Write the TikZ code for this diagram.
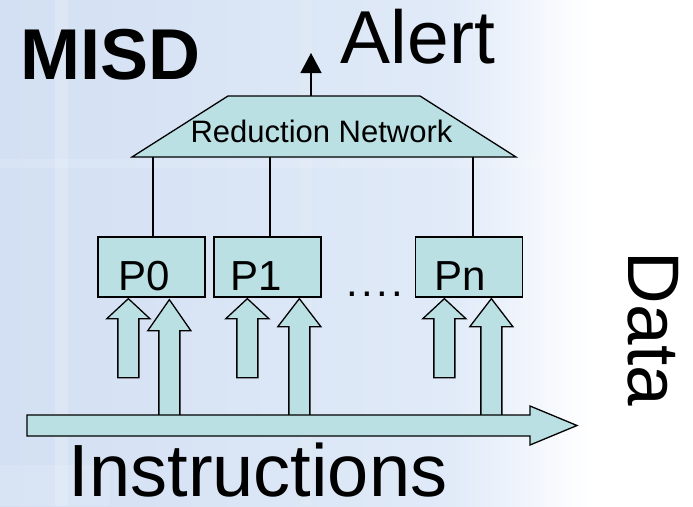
\documentclass[tikz,border=0pt]{standalone}
\usepackage{fontspec}
\setmainfont{Liberation Sans}
\usetikzlibrary{arrows.meta,calc}
\definecolor{bgblue}{RGB}{211,224,243}
\definecolor{bgmid}{RGB}{224,234,248}
\definecolor{boxfill}{RGB}{187,224,227}

\begin{document}
\begin{tikzpicture}[x=1pt,y=-1pt,
  shapefill/.style={draw=black,line width=1.3pt,fill=boxfill,line join=miter},
  proc/.style={shapefill,minimum width=107pt,minimum height=60pt,inner sep=0pt},
  wire/.style={draw=black,line width=1.2pt},
  txt/.style={inner sep=0pt,anchor=base,text=black},
  pics/blockup/.style args={#1/#2}{code={
    \path[shapefill] (0,0) -- (-21.5,#2) -- (-10.5,#2) -- (-10.5,#1)
      -- (10.5,#1) -- (10.5,#2) -- (21.5,#2) -- cycle;
  }}
]
% page and background wash
\useasboundingbox (0,0) rectangle (693,506);
\shade[left color=bgblue,right color=bgmid] (0,0) rectangle (450,506);
\shade[left color=bgmid,right color=white] (450,0) rectangle (590,506);
\fill[white] (590,0) rectangle (693,506);
% faint grid of lighter bands
\fill[white,opacity=0.18] (55,0) rectangle (68,506);
\fill[white,opacity=0.12] (0,159) rectangle (560,168);
\fill[white,opacity=0.1] (300,0) rectangle (312,506);
\fill[white,opacity=0.12] (0,465) rectangle (110,506);

% reduction network
\path[shapefill] (132,157) -- (228,96) -- (420,96) -- (516,157) -- cycle;
\node[txt,font=\fontsize{31}{31}\selectfont] (rntext) at (321.5,142) {Reduction Network};
\coordinate (rntop) at (311,96);
\coordinate (w0) at (153,157);
\coordinate (w1) at (270,157);
\coordinate (wn) at (473,157);

% processors
\node[proc] (p0) at (151.5,267) {};
\node[proc] (p1) at (267.5,267) {};
\node[proc] (pn) at (469,267) {};
\node[txt,font=\fontsize{42}{42}\selectfont] (p0t) at (144,290) {P0};
\node[txt,font=\fontsize{42}{42}\selectfont] (p1t) at (256,290) {P1};
\node[txt,font=\fontsize{42}{42}\selectfont] (pnt) at (460.5,290) {Pn};
\node[txt,font=\fontsize{42}{42}\selectfont] (dots) at (374.5,296)
  {.\hspace{3.3pt}.\hspace{3.3pt}.\hspace{3.3pt}.};

% links from processors to the network
\draw[wire] (w0) -- (w0 |- p0.north);
\draw[wire] (w1) -- (w1 |- p1.north);
\draw[wire] (wn) -- (wn |- pn.north);

% alert output
\coordinate (alerttip) at (311,53);
\draw[wire,-{Triangle[width=21pt,length=20pt]}] (rntop) -- (alerttip);

% data and instruction streams into each processor
\pic at ($(p0.south west)+(31,1)$) {blockup=79/20};
\pic at ($(p0.south west)+(72,2)$) {blockup=116/31};
\pic at ($(p1.south west)+(34,1)$) {blockup=79/20};
\pic at ($(p1.south west)+(86,1)$) {blockup=117/28};
\pic at ($(pn.south west)+(29.5,1)$) {blockup=79/20};
\pic at ($(pn.south west)+(76.5,1)$) {blockup=117/28};

% instruction stream
\path[shapefill] (27,415) -- (530,415) -- (530,406) -- (577,425.5)
  -- (530,445) -- (530,436) -- (27,436) -- cycle;

% labels
\node[txt,font=\fontsize{72}{72}\selectfont\bfseries] (title) at (110.5,79) {MISD};
\node[txt,font=\fontsize{75}{75}\selectfont] (alert) at (418,63) {Alert};
\node[txt,font=\fontsize{74}{74}\selectfont] (instr) at (258,496) {Instructions};
\node[txt,font=\fontsize{73}{73}\selectfont,rotate=-90] (data) at (628,329) {Data};
\end{tikzpicture}
\end{document}
